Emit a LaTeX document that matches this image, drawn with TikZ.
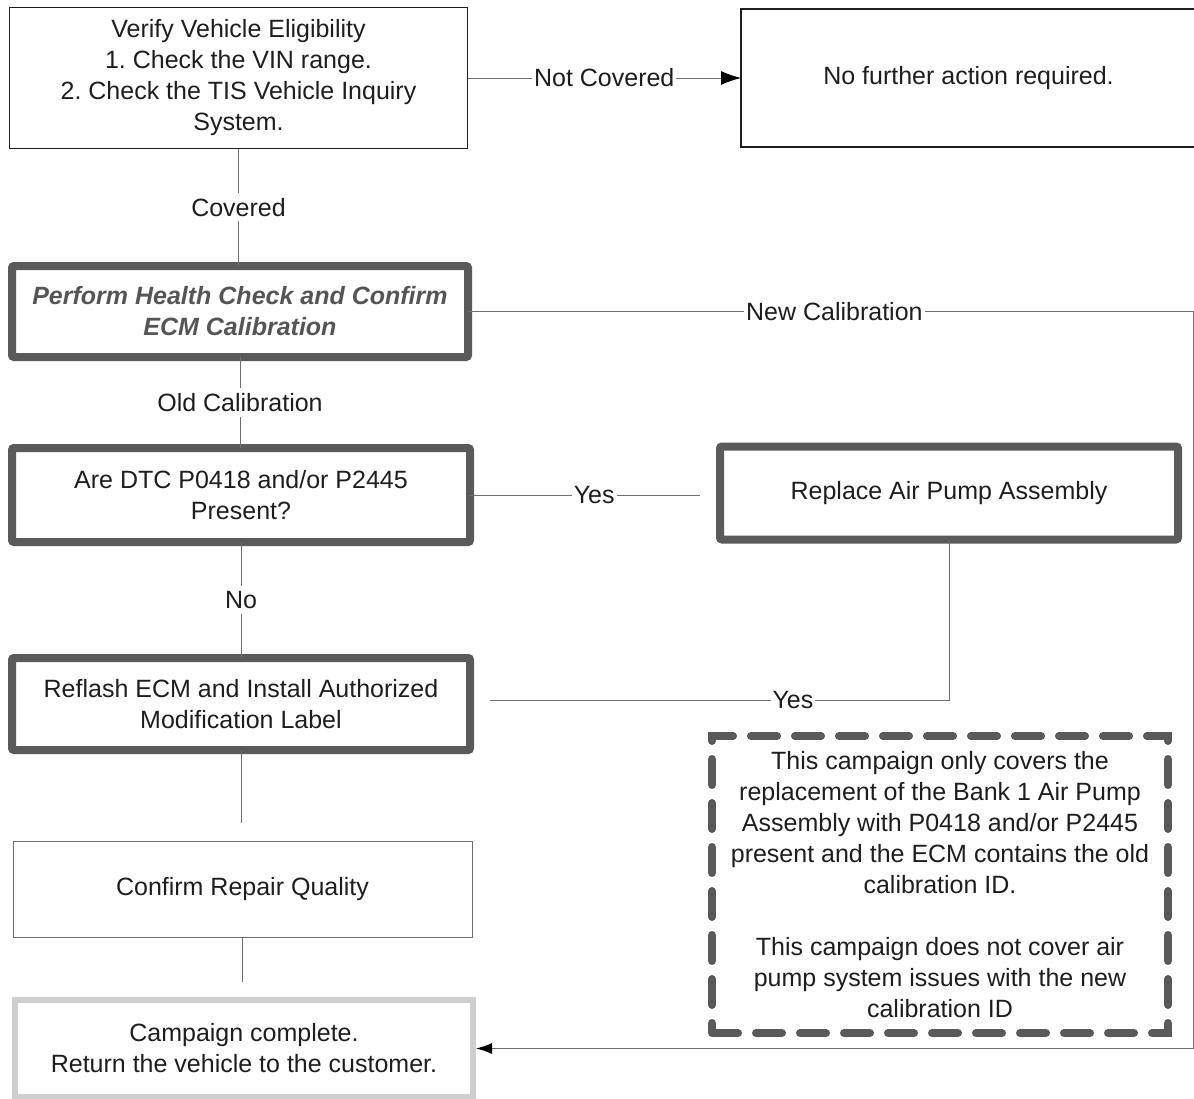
\documentclass[tikz,border=0pt]{standalone}
\usepackage{fontspec}
\setmainfont{Liberation Sans}
\usetikzlibrary{arrows.meta}
\definecolor{txt}{HTML}{1E1E1E}
\definecolor{heavyc}{HTML}{5A5A5A}
\definecolor{connc}{HTML}{6E6E6E}
\definecolor{italc}{HTML}{555555}
\definecolor{lightc}{HTML}{CFCFCF}
\begin{document}
\frenchspacing
\begin{tikzpicture}[x=1pt,y=-1pt,
  every node/.style={font=\fontsize{25}{31}\selectfont, text=txt},
  basebox/.style={inner sep=0pt, outer sep=0pt, align=center},
  thinbox/.style={basebox, draw=txt, line width=1.4pt},
  greybox/.style={basebox, draw=connc, line width=1pt},
  heavybox/.style={basebox, draw=heavyc, line width=8pt, rounded corners=2pt},
  lightbox/.style={basebox, draw=lightc, line width=6pt, outer sep=3pt},
  notebox/.style={basebox, draw=heavyc, line width=8pt, line cap=round, dash pattern=on 26pt off 18pt},
  conn/.style={draw=connc, line width=1pt},
  lbl/.style={fill=white, inner sep=2pt},
  tip/.style={-{Latex[length=20pt,width=14pt,color=black]}},
  smalltip/.style={-{Latex[length=16pt,width=11pt,color=black]}}
]
\useasboundingbox (0,0) rectangle (1194,1098);

% boxes
\node[thinbox, minimum width=458pt, minimum height=141pt] (b1) at (238.5,78)
  {Verify Vehicle Eligibility\\1. Check the VIN range.\\2. Check the TIS Vehicle Inquiry\\System.};
\node[thinbox, minimum width=455pt, minimum height=138pt] (b2) at (968.5,78)
  {No further action required.};
\node[heavybox, minimum width=456pt, minimum height=91pt,
  font=\fontsize{25}{31}\selectfont\bfseries\itshape, text=italc] (b3) at (240,311.5)
  {Perform Health Check and Confirm\\ECM Calibration};
\node[heavybox, minimum width=458pt, minimum height=94pt] (b4) at (241,495)
  {Are DTC P0418 and/or P2445\\Present?};
\node[heavybox, minimum width=458pt, minimum height=93pt] (b5) at (949,493)
  {Replace Air Pump Assembly};
\node[heavybox, minimum width=458pt, minimum height=92pt] (b6) at (241,704)
  {Reflash ECM and Install Authorized\\Modification Label};
\node[greybox, minimum width=459pt, minimum height=96pt] (b8) at (242.5,889)
  {Confirm Repair Quality};
\node[lightbox, minimum width=458pt, minimum height=97pt] (b9) at (244,1048.5)
  {Campaign complete.\\Return the vehicle to the customer.};
\node[notebox, minimum width=456pt, minimum height=297pt] (note) at (940,884.5)
  {This campaign only covers the\\replacement of the Bank 1 Air Pump\\Assembly with P0418 and/or P2445\\present and the ECM contains the old\\calibration ID.\\[31pt]This campaign does not cover air\\pump system issues with the new\\calibration ID};

% coordinates
\coordinate (rc) at (1193.5,311.5);
\coordinate (y1) at (700,495);
\coordinate (c2) at (949,700);
\coordinate (c3) at (490,700);

% connectors
\draw[conn, tip] (b1.east) -- node[lbl]{Not Covered} (b2.west);
\draw[conn] (b1.south) -- node[lbl, inner ysep=5pt]{Covered} (b1.south |- b3.north);
\draw[conn, smalltip] (b3.east) -- node[lbl, pos=0.505]{New Calibration} (rc) -- (rc |- b9.east) -- (b9.east);
\draw[conn] (b3.south) -- node[lbl, inner ysep=5pt]{Old Calibration} (b3.south |- b4.north);
\draw[conn] (b4.east) -- node[lbl, pos=0.54]{Yes} (y1);
\draw[conn] (b4.south) -- node[lbl, inner ysep=5pt]{No} (b4.south |- b6.north);
\draw[conn] (b5.south) -- (c2) -- node[lbl, pos=0.34]{Yes} (c3);
\draw[conn, shorten >=18pt] (b6.south) -- (b6.south |- b8.north);
\draw[conn, shorten >=15pt] (b8.south) -- (b8.south |- b9.north);
\end{tikzpicture}
\end{document}
